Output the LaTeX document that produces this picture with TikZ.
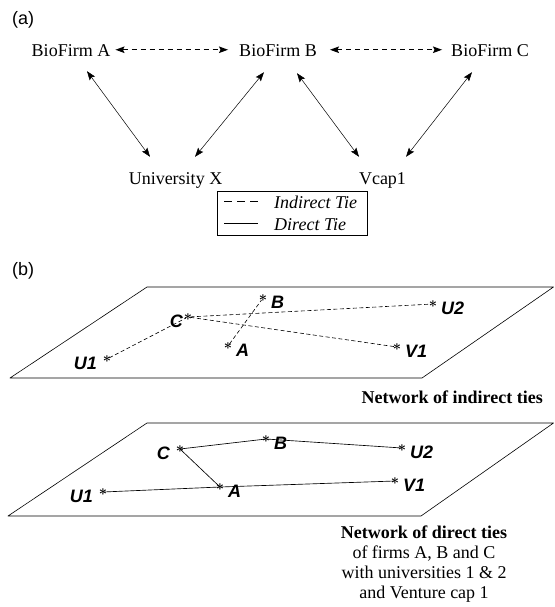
\documentclass[tikz,border=0pt]{standalone}
\usepackage{fontspec}
\setmainfont{Liberation Serif}
\setsansfont{Liberation Sans}
\usetikzlibrary{arrows.meta}

\tikzset{
  firm/.style={font=\fontsize{18}{20}\selectfont, inner sep=0pt, text height=12.5pt, text depth=4pt, anchor=base},
  tie/.style={line width=0.5pt, {Stealth[length=9pt,width=6.5pt,inset=1.5pt]}-{Stealth[length=9pt,width=6.5pt,inset=1.5pt]}},
  itie/.style={tie, line width=1.2pt, dash pattern=on 5pt off 4pt},
  panel/.style={font=\fontsize{18}{20}\selectfont\sffamily, inner sep=0pt, anchor=base west},
  plane/.style={line width=0.6pt, line join=round},
  star/.style={font=\fontsize{15}{15}\selectfont\boldmath, inner sep=0pt},
  lbl/.style={font=\fontsize{18}{20}\selectfont\sffamily\bfseries\itshape, inner sep=0pt},
  pt/.style={label={[star]center:$\ast$}},
  rlab/.style={pt, label={[lbl,label distance=8pt,yshift=-4.5pt]right:#1}},
  llab/.style={pt, label={[lbl,label distance=10pt,yshift=-4.5pt]left:#1}},
  ind/.style={line width=0.6pt, dash pattern=on 4pt off 2.5pt, shorten <=2.5pt, shorten >=2.5pt},
  dir/.style={line width=0.65pt}
}

\begin{document}
\begin{tikzpicture}[x=1pt, y=-1pt]
  \useasboundingbox (0,0) rectangle (554,607);

  % (a) ties between firms
  \node[panel] (pa) at (12,24.5) {(a)};
  \node[firm] (fA) at (71,57) {BioFirm A};
  \node[firm] (fB) at (278,57) {BioFirm B};
  \node[firm] (fC) at (490,57) {BioFirm C};
  \node[firm] (uX) at (175.5,184) {University X};
  \node[firm] (vC) at (382.5,184) {Vcap1};

  \draw[itie] ([xshift=5pt,yshift=3pt]fA.east) -- ([xshift=-11pt,yshift=3pt]fB.west);
  \draw[itie] ([xshift=13pt,yshift=3pt]fB.east) -- ([xshift=-9pt,yshift=3pt]fC.west);
  \draw[tie] ([xshift=16pt,yshift=-10pt]fA.south) -- ([xshift=-25.5pt,yshift=14.5pt]uX.north);
  \draw[tie] ([xshift=19.5pt,yshift=14.5pt]uX.north) -- ([xshift=-14pt,yshift=-11pt]fB.south);
  \draw[tie] ([xshift=19pt,yshift=-12pt]fB.south) -- ([xshift=-23.5pt,yshift=14.5pt]vC.north);
  \draw[tie] ([xshift=23.5pt,yshift=14.5pt]vC.north) -- ([xshift=-18pt,yshift=-11pt]fC.south);

  % legend
  \draw[line width=0.6pt] (217,191) rectangle (367,235);
  \node[firm, anchor=base west, font=\fontsize{18}{20}\selectfont\itshape] (lInd) at (274,208) {Indirect Tie};
  \node[firm, anchor=base west, font=\fontsize{18}{20}\selectfont\itshape] (lDir) at (274,230) {Direct Tie};
  \draw[line width=1.4pt, dash pattern=on 8pt off 5pt] ([xshift=-50pt,yshift=2pt]lInd.west) -- ([xshift=-16pt,yshift=2pt]lInd.west);
  \draw[line width=0.6pt] ([xshift=-50pt,yshift=2pt]lDir.west) -- ([xshift=-16pt,yshift=2pt]lDir.west);

  % (b) network planes
  \node[panel] (pb) at (12,275) {(b)};

  % indirect ties
  \draw[plane] (10,378) -- (422,378) -- (553.5,287) -- (147,287) -- cycle;
  \coordinate[llab=U1] (iU1) at (107,359);
  \coordinate[pt, label={[lbl,label distance=5pt,yshift=-4pt]left:C}] (iC) at (188,317);
  \coordinate[rlab=B] (iB) at (263,298);
  \coordinate[rlab=A] (iA) at (228,346);
  \coordinate[rlab=U2] (iU2) at (433,304);
  \coordinate[rlab=V1] (iV1) at (397,347);
  \draw[ind] (iU1) -- (iC);
  \draw[ind] (iC) -- (iU2);
  \draw[ind] (iC) -- (iV1);
  \draw[ind] (iA) -- (iB);
  \node[firm, anchor=base east, font=\fontsize{18}{20}\selectfont\bfseries] (capI) at (543,403) {Network of indirect ties};

  % direct ties
  \draw[plane] (8,516) -- (421,516) -- (553.5,423) -- (147,423) -- cycle;
  \coordinate[llab=C] (dC) at (180,449);
  \coordinate[rlab=B] (dB) at (266,439);
  \coordinate[rlab=A] (dA) at (220,487);
  \coordinate[llab=U1] (dU1) at (103,492);
  \coordinate[rlab=U2] (dU2) at (402,448);
  \coordinate[rlab=V1] (dV1) at (395,481);
  \draw[dir] (dC) -- (dB) -- (dU2);
  \draw[dir] (dC) -- (dA);
  \draw[dir] (dU1) -- (dA) -- (dV1);
  \node[anchor=north, align=center, inner sep=0pt, font=\fontsize{18}{20}\selectfont] (capD) at (424,526)
    {\textbf{Network of direct ties}\\of firms A, B and C\\with universities 1 \& 2\\and Venture cap 1};
\end{tikzpicture}
\end{document}
